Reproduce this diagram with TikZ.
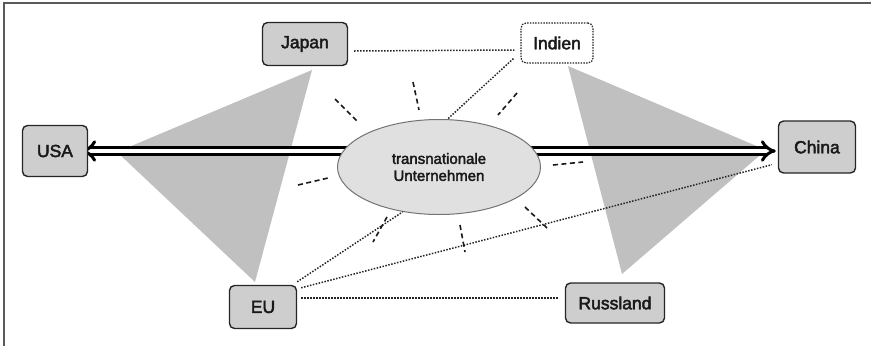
\documentclass[tikz,border=0pt]{standalone}
\usepackage{fontspec}
\setmainfont{Liberation Sans}
\newfontfamily\heavy{Liberation Sans}[FakeBold=2.5]
\usetikzlibrary{arrows.meta,backgrounds,shapes.geometric}
\definecolor{boxgray}{RGB}{206,206,206}
\definecolor{trigray}{RGB}{192,192,192}
\definecolor{ellfill}{RGB}{224,224,224}
\definecolor{framecol}{RGB}{90,90,90}
\begin{document}
\begin{tikzpicture}[x=1pt,y=-1pt,
  country/.style={draw=black!85, line width=1.4pt, rounded corners=5pt, fill=boxgray,
    font=\heavy\fontsize{17.5}{20}\selectfont, text=black!90, inner sep=0pt},
  dotline/.style={draw=black!85, line width=1.5pt, dash pattern=on 1.5pt off 1.5pt},
  dashline/.style={draw=black!90, line width=1.6pt, dash pattern=on 5pt off 3.5pt},
  tri/.style={fill=trigray},
  bigarrow/.style={line width=3pt, double=white, double distance=4pt, {Implies}-{Implies}},
]
\useasboundingbox (0,0) rectangle (871,346);
\draw[framecol, line width=1.2pt] (4,346) -- (4,3) -- (871,3);

% nodes
\node[country, minimum width=65, minimum height=51] (USA) at (55,151) {USA};
\node[country, minimum width=85, minimum height=43] (Japan) at (305,44) {Japan};
\node[country, minimum width=72, minimum height=40, fill=white, dash pattern=on 1.5pt off 1.2pt, line width=1.2pt] (Indien) at (557,43) {Indien};
\node[country, minimum width=77, minimum height=52] (China) at (817,147) {China};
\node[country, minimum width=67, minimum height=43] (EU) at (263,307) {EU};
\node[country, minimum width=99, minimum height=40] (Russland) at (615,303) {Russland};
\node[ellipse, draw=black!55, line width=1pt, fill=ellfill, minimum width=203, minimum height=95,
  align=center, font=\heavy\fontsize{15}{17}\selectfont, text=black!90, inner sep=0pt] (TNU) at (439,167)
  {transnationale\\Unternehmen};

\begin{pgfonlayer}{background}
  \fill[tri] (117,152) -- (312,70) -- (255,282) -- cycle;
  \fill[tri] (568,66) -- (766,150) -- (622,274) -- cycle;
  \draw[bigarrow, shorten <=-7pt, shorten >=2pt] (USA.east) -- (USA.east -| China.west);
\end{pgfonlayer}

% dotted connectors
\draw[dotline] ([shift={(6,7)}]Japan.east) -- ([shift={(-6,7)}]Indien.west);
\draw[dotline] ([shift={(-7,-5)}]Indien.south west) -- (TNU.80);
\draw[dotline] ([shift={(0,-3)}]EU.north east) -- (TNU.231);
\draw[dotline] ([shift={(4,3)}]EU.north east) -- ([shift={(-6,-9)}]China.south west);
\draw[dotline] ([shift={(4,-9)}]EU.east) -- ([shift={(-7,-5)}]Russland.west);

% short dashed rays
\draw[dashline] (335,99) -- (357,121);
\draw[dashline] (413,82) -- (419,110);
\draw[dashline] (517,93) -- (498,115);
\draw[dashline] (553,165) -- (583,162);
\draw[dashline] (298,185) -- (328,178);
\draw[dashline] (387,217) -- (373,242);
\draw[dashline] (460,225) -- (465,252);
\draw[dashline] (525,207) -- (547,228);
\end{tikzpicture}
\end{document}
